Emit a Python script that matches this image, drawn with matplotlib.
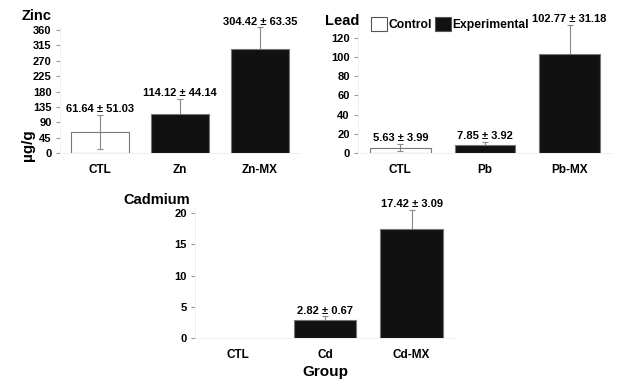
import matplotlib.pyplot as plt
import matplotlib.patches as mpatches
import numpy as np

plt.rcParams["font.family"] = ["Liberation Sans", "DejaVu Sans"]

# data
zn_groups = ["CTL", "Zn", "Zn-MX"]
zn_mean = [61.64, 114.12, 304.42]
zn_sd = [51.03, 44.14, 63.35]

pb_groups = ["CTL", "Pb", "Pb-MX"]
pb_mean = [5.63, 7.85, 102.77]
pb_sd = [3.99, 3.92, 31.18]

cd_groups = ["CTL", "Cd", "Cd-MX"]
cd_mean = [np.nan, 2.82, 17.42]
cd_sd = [np.nan, 0.67, 3.09]

# control bar is see-through so its error bar shows, black bars hide theirs
bar_colors = [(1, 1, 1, 0), "#111111", "#111111"]


def panel(ax, groups, mean, sd, ymax, yticks):
    x = np.arange(len(groups))
    ax.errorbar(x, mean, yerr=sd, fmt="none", ecolor="#888888", elinewidth=0.8,
                capsize=2, capthick=0.8, zorder=1)
    ax.bar(x, mean, width=0.72, color=bar_colors, edgecolor="#777777", linewidth=0.8, zorder=2)
    for xi, m, s in zip(x, mean, sd):
        if np.isnan(m):
            continue
        ax.annotate(f"{m:.2f} \u00b1 {s:.2f}", (xi, m + s), xytext=(0, 0.5),
                    textcoords="offset points", ha="center", va="bottom",
                    fontsize=8, fontweight="bold", annotation_clip=False)
    ax.set_xlim(-0.5, len(groups) - 0.5)
    ax.set_ylim(0, ymax)
    ax.set_xticks(x)
    ax.set_xticklabels(groups, fontsize=8.5, fontweight="bold")
    ax.set_yticks(yticks)
    ax.set_yticklabels([str(t) for t in yticks], fontsize=8, fontweight="bold")
    ax.tick_params(axis="x", length=0, pad=8)
    ax.tick_params(axis="y", length=3, color="#999999", pad=3)
    for s in ["top", "right"]:
        ax.spines[s].set_visible(False)
    for s in ["left", "bottom"]:
        ax.spines[s].set_color("#eeeeee")
        ax.spines[s].set_linewidth(0.6)


fig = plt.figure(figsize=(6.24, 3.85), dpi=100)
W, H = 624.0, 385.0

ax1 = fig.add_axes([60 / W, 1 - 153 / H, 240 / W, 126.4 / H])
panel(ax1, zn_groups, zn_mean, zn_sd, 370, list(range(0, 361, 45)))

ax2 = fig.add_axes([358 / W, 1 - 153 / H, 254 / W, 129.4 / H])
panel(ax2, pb_groups, pb_mean, pb_sd, 135, list(range(0, 121, 20)))

ax3 = fig.add_axes([195 / W, 1 - 338 / H, 260 / W, 131 / H])
panel(ax3, cd_groups, cd_mean, cd_sd, 21, list(range(0, 21, 5)))

handles = [mpatches.Patch(facecolor="white", edgecolor="#555555", linewidth=0.8, label="Control"),
           mpatches.Patch(facecolor="#111111", edgecolor="#555555", linewidth=0.8, label="Experimental")]
fig.legend(handles=handles, loc="upper left", bbox_to_anchor=(371 / W, 1 - 17 / H),
           bbox_transform=fig.transFigure, ncol=2, frameon=False,
           handlelength=1.3, handleheight=1.45, handletextpad=0.15, columnspacing=0.25,
           borderaxespad=0, borderpad=0, prop={"size": 8.7, "weight": "bold"})

fig.text(22 / W, 1 - 16 / H, "Zinc", fontsize=10.5, fontweight="bold", va="center", ha="left")
fig.text(325 / W, 1 - 21 / H, "Lead", fontsize=10.5, fontweight="bold", va="center", ha="left")
fig.text(190 / W, 1 - 200 / H, "Cadmium", fontsize=10.5, fontweight="bold", va="center", ha="right")
fig.text(28 / W, 1 - 145 / H, "\u00b5g/g", fontsize=11, fontweight="bold", rotation=90,
         va="center", ha="center")
fig.text(325 / W, 1 - 372 / H, "Group", fontsize=11, fontweight="bold", va="center", ha="center")

fig.savefig("out.png", dpi=100)
